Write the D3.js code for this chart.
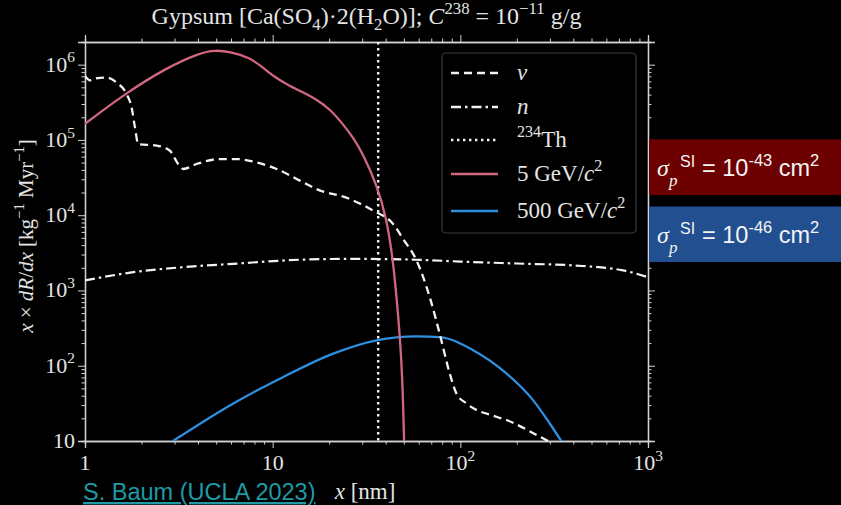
<!DOCTYPE html>
<html>
<head>
<meta charset="utf-8">
<script src="https://cdn.jsdelivr.net/npm/d3@7"></script>
<style>
  html, body { margin: 0; padding: 0; background: #000; }
  svg { display: block; }
</style>
</head>
<body>
<div class="chart"></div>
<script>
var svgWidth = 841;
var svgHeight = 505;

// neutrino background (dashed)
var nuX = [1, 1.063, 1.154, 1.305, 1.475, 1.667, 1.773, 1.846, 1.922, 2.41, 2.835, 3.13, 3.34, 3.93, 5.23, 6.42, 8.21, 10.5, 13.96, 17.1, 25.8, 34.3, 43.8, 49.5, 58.4, 68.7, 77.6, 87.8, 95.3, 107.7, 155.6, 176, 265, 310];
var nuY = [7.08e5, 6.2e5, 6.6e5, 6.73e5, 5.77e5, 4.05e5, 2.69e5, 1.46e5, 8.8e4, 8.4e4, 7.18e4, 4.83e4, 4.11e4, 4.79e4, 5.57e4, 5.57e4, 5.02e4, 4.11e4, 2.88e4, 2.23e4, 1.64e4, 1.15e4, 7.67e3, 4.85e3, 2.51e3, 817, 267, 78.9, 42.9, 31.6, 21, 19, 11.4, 9.3];

// neutron background (dash-dot)
var nX = [1, 1.81, 3.34, 6.17, 13.96, 25.8, 58.4, 100, 200, 400, 735, 1000];
var nY = [1360, 1750, 2040, 2260, 2560, 2630, 2560, 2420, 2280, 2150, 1850, 1500];

// 5 GeV WIMP
var wimp5X = [1, 1.667, 2.72, 4.1, 4.92, 5.92, 7.56, 8.9, 10.06, 11.86, 13.96, 17.1, 20.2, 23.7, 26.8, 30.3, 35.7, 40.4, 43.8, 45.7, 47.6, 49.2, 50.2];
var wimp5Y = [1.64e5, 4.26e5, 9.1e5, 1.44e6, 1.56e6, 1.49e6, 1.24e6, 9.1e5, 7.08e5, 5.5e5, 4.48e5, 3.48e5, 2.56e5, 1.62e5, 1.08e5, 6.5e4, 2.6e4, 9.4e3, 2.5e3, 815, 254, 64, 9];

// 500 GeV WIMP
var wimp500X = [2.94, 6.17, 11.4, 21, 35.7, 58.4, 77.6, 117, 176, 244, 299, 345];
var wimp500Y = [10, 31.6, 71, 145, 218, 246, 240, 161, 79, 34.9, 17.2, 10];

// 234Th line
var thX = 36.5;

var xMajor = [1, 10, 100, 1000];
var xMajorLabels = [["1", ""], ["10", ""], ["10", "2"], ["10", "3"]];
var yMajor = [10, 100, 1e3, 1e4, 1e5, 1e6];
var yMajorLabels = [["10", ""], ["10", "2"], ["10", "3"], ["10", "4"], ["10", "5"], ["10", "6"]];

var plot = { left: 85, right: 648, top: 42, bottom: 441 };
var textColor = "#e4e4e4";
var axisColor = "#d2d2d2";
var serif = "'Liberation Serif', 'Times New Roman', serif";
var sans = "'Liberation Sans', Arial, sans-serif";
var red = "#d0677f";
var blue = "#2f8fdf";

var svg = d3.select(".chart")
  .append("svg")
  .attr("width", svgWidth)
  .attr("height", svgHeight)
  .style("background", "#000");

var xScale = d3.scaleLog().domain([1, 1000]).range([plot.left, plot.right]);
var yScale = d3.scaleLog().domain([10, 2e6]).range([plot.bottom, plot.top]);

// rich text helper: parts are strings or {t, sup, sub, it}
function rich(sel, parts, size) {
  var off = 0;
  parts.forEach(function (p) {
    var s = typeof p === "string" ? { t: p } : p;
    var target = s.sup ? -0.42 * size : (s.sub ? 0.25 * size : 0);
    var ts = sel.append("tspan").attr("dy", target - off).text(s.t);
    off = target;
    if (s.sup || s.sub) ts.attr("font-size", 0.7 * size);
    if (s.it) ts.attr("font-style", "italic");
  });
  return sel;
}

function minorTicks(lo, hi) {
  var out = [];
  for (var d = lo; d < hi; d *= 10) {
    for (var k = 2; k <= 9; k++) out.push(d * k);
  }
  return out;
}

var xMinor = minorTicks(1, 1000);
var yMinor = minorTicks(10, 1e6).concat([2e6]);

// clip
svg.append("clipPath").attr("id", "plotclip")
  .append("rect")
  .attr("x", plot.left).attr("y", plot.top)
  .attr("width", plot.right - plot.left).attr("height", plot.bottom - plot.top);

var axes = svg.append("g").attr("class", "axes");

function drawAxis(axisFn, scale, values, size, transform) {
  var g = axes.append("g")
    .attr("transform", transform)
    .call(axisFn(scale).tickValues(values).tickSize(size).tickFormat(""));
  g.selectAll("path").attr("stroke", axisColor).attr("stroke-width", 1.3);
  g.selectAll("line").attr("stroke", axisColor).attr("stroke-width", 1);
  return g;
}

// bottom / top / left / right, major + minor ticks pointing outwards
drawAxis(d3.axisBottom, xScale, xMinor, 3.5, "translate(0," + plot.bottom + ")");
drawAxis(d3.axisBottom, xScale, xMajor, 7, "translate(0," + plot.bottom + ")");
drawAxis(d3.axisTop, xScale, xMinor, 3.5, "translate(0," + plot.top + ")");
drawAxis(d3.axisTop, xScale, xMajor, 7, "translate(0," + plot.top + ")");
drawAxis(d3.axisLeft, yScale, yMinor, 3.5, "translate(" + plot.left + ",0)");
drawAxis(d3.axisLeft, yScale, yMajor, 7, "translate(" + plot.left + ",0)");
drawAxis(d3.axisRight, yScale, yMinor, 3.5, "translate(" + plot.right + ",0)");
drawAxis(d3.axisRight, yScale, yMajor, 7, "translate(" + plot.right + ",0)");

// tick labels
xMajor.forEach(function (v, i) {
  var t = svg.append("text")
    .attr("x", xScale(v)).attr("y", 470)
    .attr("text-anchor", "middle")
    .attr("font-family", serif).attr("font-size", 22)
    .attr("fill", textColor);
  var lab = xMajorLabels[i];
  rich(t, lab[1] ? [lab[0], { t: lab[1], sup: true }] : [lab[0]], 22);
});

yMajor.forEach(function (v, i) {
  var t = svg.append("text")
    .attr("x", plot.left - 10).attr("y", yScale(v) + 7)
    .attr("text-anchor", "end")
    .attr("font-family", serif).attr("font-size", 22)
    .attr("fill", textColor);
  var lab = yMajorLabels[i];
  rich(t, lab[1] ? [lab[0], { t: lab[1], sup: true }] : [lab[0]], 22);
});

// curves
var chartGroup = svg.append("g").attr("clip-path", "url(#plotclip)");

function toPts(xs, ys) {
  return xs.map(function (x, i) { return [x, ys[i]]; });
}

var line = d3.line()
  .x(function (d) { return xScale(d[0]); })
  .y(function (d) { return yScale(d[1]); })
  .curve(d3.curveMonotoneX);

// smoother variant for the WIMP spectra
var smoothLine = d3.line()
  .x(function (d) { return xScale(d[0]); })
  .y(function (d) { return yScale(d[1]); })
  .curve(d3.curveBasis);

chartGroup.append("path")
  .datum(toPts(nX, nY))
  .attr("d", line)
  .attr("fill", "none").attr("stroke", "#f2f2f2").attr("stroke-width", 2.2)
  .attr("stroke-dasharray", "10,4,2.5,4");

chartGroup.append("line")
  .attr("x1", xScale(thX)).attr("x2", xScale(thX))
  .attr("y1", plot.top).attr("y2", plot.bottom)
  .attr("stroke", "#f2f2f2").attr("stroke-width", 2.4)
  .attr("stroke-dasharray", "2.4,3.6");

chartGroup.append("path")
  .datum(toPts(wimp500X, wimp500Y))
  .attr("d", line)
  .attr("fill", "none").attr("stroke", blue).attr("stroke-width", 2.3);

chartGroup.append("path")
  .datum(toPts(wimp5X, wimp5Y))
  .attr("d", smoothLine)
  .attr("fill", "none").attr("stroke", red).attr("stroke-width", 2.3);

chartGroup.append("path")
  .datum(toPts(nuX, nuY))
  .attr("d", line)
  .attr("fill", "none").attr("stroke", "#f2f2f2").attr("stroke-width", 2.3)
  .attr("stroke-dasharray", "8,5");

// legend
var legend = svg.append("g");
legend.append("rect")
  .attr("x", 442).attr("y", 53).attr("width", 194).attr("height", 180)
  .attr("rx", 4).attr("fill", "#000").attr("stroke", "#3a3a3a").attr("stroke-width", 1.2);

var legendItems = [
  { y: 73, stroke: "#f2f2f2", dash: "8,5", label: [{ t: "ν", it: true }] },
  { y: 107, stroke: "#f2f2f2", dash: "10,4,2.5,4", label: [{ t: "n", it: true }] },
  { y: 140, stroke: "#f2f2f2", dash: "2.4,3.6", label: [{ t: "234", sup: true }, "Th"] },
  { y: 174, stroke: red, dash: null, label: ["5 GeV/", { t: "c", it: true }, { t: "2", sup: true }] },
  { y: 211, stroke: blue, dash: null, label: ["500 GeV/", { t: "c", it: true }, { t: "2", sup: true }] }
];

legendItems.forEach(function (d) {
  legend.append("line")
    .attr("x1", 451).attr("x2", 498).attr("y1", d.y).attr("y2", d.y)
    .attr("stroke", d.stroke).attr("stroke-width", 2.3)
    .attr("stroke-dasharray", d.dash);
  var t = legend.append("text")
    .attr("x", 517).attr("y", d.y + 7)
    .attr("font-family", serif).attr("font-size", 23)
    .attr("fill", textColor);
  rich(t, d.label, 23);
});

// title
var title = svg.append("text")
  .attr("x", (plot.left + plot.right) / 2).attr("y", 24)
  .attr("text-anchor", "middle")
  .attr("font-family", serif).attr("font-size", 24)
  .attr("fill", textColor);
rich(title, ["Gypsum [Ca(SO", { t: "4", sub: true }, ")·2(H", { t: "2", sub: true }, "O)]; ",
  { t: "C", it: true }, { t: "238", sup: true }, " = 10", { t: "−11", sup: true }, " g/g"], 24);

// axis labels
var yLabel = svg.append("text")
  .attr("transform", "translate(33,236) rotate(-90)")
  .attr("text-anchor", "middle")
  .attr("font-family", serif).attr("font-size", 21)
  .attr("fill", textColor);
rich(yLabel, [{ t: "x", it: true }, " × ", { t: "dR", it: true }, "/", { t: "dx", it: true },
  " [kg", { t: "−1", sup: true }, " Myr", { t: "−1", sup: true }, "]"], 21);

var xLabel = svg.append("text")
  .attr("x", 365).attr("y", 499)
  .attr("text-anchor", "middle")
  .attr("font-family", serif).attr("font-size", 23)
  .attr("fill", textColor);
rich(xLabel, [{ t: "x", it: true }, " [nm]"], 23);

// credit link
svg.append("text")
  .attr("x", 83).attr("y", 500)
  .attr("font-family", sans).attr("font-size", 23.5)
  .attr("fill", "#1f9aa6")
  .attr("text-decoration", "underline")
  .text("S. Baum (UCLA 2023)");

// cross-section boxes
var boxes = [
  { y: 139.5, h: 55.5, fill: "#6d0000", exp: "-43" },
  { y: 206.5, h: 55.5, fill: "#214f8f", exp: "-46" }
];

boxes.forEach(function (b) {
  svg.append("rect")
    .attr("x", 649).attr("y", b.y).attr("width", svgWidth - 649).attr("height", b.h)
    .attr("fill", b.fill);
  var base = b.y + 36;
  svg.append("text")
    .attr("x", 657).attr("y", base)
    .attr("font-family", serif).attr("font-style", "italic").attr("font-size", 24)
    .attr("fill", "#f4f4f4").text("σ");
  svg.append("text")
    .attr("x", 669).attr("y", base + 10)
    .attr("font-family", serif).attr("font-style", "italic").attr("font-size", 17)
    .attr("fill", "#f4f4f4").text("p");
  svg.append("text")
    .attr("x", 680).attr("y", base - 9)
    .attr("font-family", sans).attr("font-size", 16)
    .attr("fill", "#f4f4f4").text("SI");
  var t = svg.append("text")
    .attr("x", 702).attr("y", base)
    .attr("font-family", sans).attr("font-size", 23.5)
    .attr("fill", "#f4f4f4");
  rich(t, ["= 10", { t: b.exp, sup: true }, " cm", { t: "2", sup: true }], 23.5);
});
</script>
</body>
</html>
